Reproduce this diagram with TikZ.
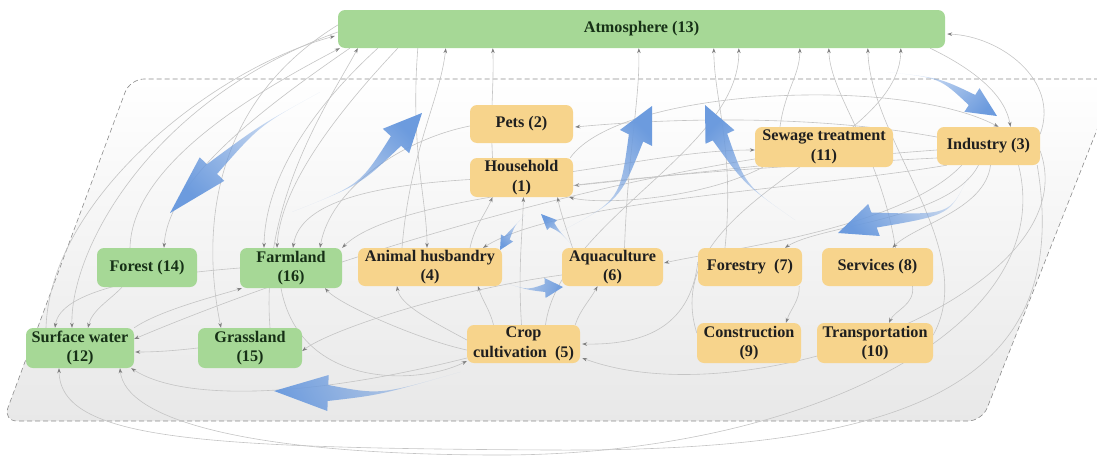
\documentclass[tikz,border=0pt]{standalone}
\usepackage{fontspec}
\setmainfont{Liberation Serif}
\usetikzlibrary{calc,arrows.meta,fadings}
\definecolor{orangebox}{RGB}{247,212,140}
\definecolor{greenbox}{RGB}{166,216,150}
\definecolor{greentext}{RGB}{22,48,22}
\definecolor{flowblue}{RGB}{108,155,222}
\definecolor{linkgray}{RGB}{196,196,196}
\definecolor{tipgray}{RGB}{128,128,128}
\tikzfading[name=fadetail, left color=transparent!0, right color=transparent!80]
\pgfdeclarelayer{region}
\pgfdeclarelayer{links}
\pgfsetlayers{region,links,main}
\tikzset{
  box/.style={rounded corners=7pt, inner sep=0pt, align=center,
              font=\fontsize{16.2}{19.5}\selectfont\bfseries},
  sector/.style={box, fill=orangebox, text=black!88},
  nature/.style={box, fill=greenbox, text=greentext},
  link/.style={draw=linkgray, line width=0.6pt,
               -{Stealth[length=5pt,width=3.6pt,color=tipgray]}},
  flowfill/.style={fill=flowblue, path fading=fadetail},
}
% tapered flow arrow: tail, bend, head base, tip, body half-width, head half-width, fading angle
\newcommand\flowarr[7]{%
  \fill[flowfill, fading angle=#7]
    (#1) .. controls (#2) .. ($(#3)!#5!90:(#4)$) -- ($(#3)!#6!90:(#4)$) -- (#4)
    -- ($(#3)!#6!-90:(#4)$) -- ($(#3)!#5!-90:(#4)$) .. controls (#2) .. (#1) -- cycle;}
\begin{document}
\begin{tikzpicture}[x=1pt,y=-1pt]
\useasboundingbox (0,0) rectangle (1097,458);

% ---------- compartments ----------
\node[nature, minimum width=607pt, minimum height=38pt] (atm) at (641.5,29) {Atmosphere (13)};
\node[sector, minimum width=103pt, minimum height=38pt] (pets) at (521.5,124) {Pets (2)};
\node[sector, minimum width=103pt, minimum height=39pt] (hh) at (521.5,177.5) {Household\\(1)};
\node[sector, minimum width=138pt, minimum height=40pt] (sew) at (824,147) {Sewage treatment\\(11)};
\node[sector, minimum width=103pt, minimum height=38pt] (ind) at (988.5,146) {Industry (3)};
\node[nature, minimum width=100pt, minimum height=39pt] (forest) at (147,267.5) {Forest (14)};
\node[nature, minimum width=102pt, minimum height=40pt] (farm) at (291,268) {Farmland\\(16)};
\node[sector, minimum width=144pt, minimum height=38pt] (anim) at (430,267) {Animal husbandry\\(4)};
\node[sector, minimum width=101pt, minimum height=38pt] (aqua) at (612.5,267) {Aquaculture\\(6)};
\node[sector, minimum width=104pt, minimum height=38pt] (fory) at (750,267) {Forestry~ (7)};
\node[sector, minimum width=111pt, minimum height=38pt] (serv) at (877.5,267) {Services (8)};
\node[nature, minimum width=108pt, minimum height=40pt] (sw) at (80,348) {Surface water\\(12)};
\node[nature, minimum width=104pt, minimum height=40pt] (grass) at (250,348) {Grassland\\(15)};
\node[sector, minimum width=113pt, minimum height=38pt] (crop) at (523.5,344) {Crop\\cultivation~ (5)};
\node[sector, minimum width=104pt, minimum height=40pt] (constr) at (749,343) {Construction\\(9)};
\node[sector, minimum width=116pt, minimum height=40pt] (trans) at (875,343) {Transportation\\(10)};

% ---------- dashed system boundary ----------
\begin{pgfonlayer}{region}
\path[top color=white, bottom color=black!9, draw=black!45, dash pattern=on 5pt off 3pt,
      line width=0.6pt, rounded corners=14pt]
  (600,79) -- (1117,79) -- (982,421) -- (3,421) -- (130,79) -- cycle;
\end{pgfonlayer}

% ---------- flows between compartments ----------
\begin{pgfonlayer}{links}
% into the atmosphere
\draw[link] ($(sw.north)+(-34,0)$) .. controls (50,200) and (210,70) .. ($(atm.west)+(-3,7)$);
\draw[link] ($(forest.north)+(-17,0)$) .. controls (132,160) and (270,85) .. ($(atm.south west)+(2,0)$);
\draw[link] ($(grass.north)+(20,0)$) .. controls (260,200) and (330,100) .. ($(atm.south west)+(20,0)$);
\draw[link] ($(anim.north)+(-28,0)$) .. controls (410,150) and (440,100) .. ($(atm.south west)+(108,0)$);
\draw[link] ($(hh.north)+(-29,0)$) .. controls (490,110) and (494,90) .. ($(atm.south west)+(155,0)$);
\draw[link] ($(aqua.north)+(12,0)$) .. controls (628,150) and (640,100) .. ($(atm.south west)+(301,0)$);
\draw[link] ($(fory.north)+(-25,0)$) .. controls (735,150) and (714,100) .. ($(atm.south west)+(376,0)$);
\draw[link] ($(crop.north)+(22,0)$) .. controls (560,220) and (740,150) .. ($(atm.south west)+(401,0)$);
\draw[link] ($(sew.north)+(-44,0)$) .. controls (785,90) and (800,75) .. ($(atm.south west)+(462,0)$);
\draw[link] ($(serv.north)+(18,0)$) .. controls (880,150) and (830,95) .. ($(atm.south west)+(491,0)$);
\draw[link] ($(trans.east)+(0,-8)$) .. controls (980,250) and (870,140) .. ($(atm.south west)+(530,0)$);
\draw[link] ($(constr.west)+(0,-10)$) .. controls (655,200) and (900,150) .. ($(atm.south west)+(563,0)$);
\draw[link] ($(ind.east)+(0,-12)$) .. controls (1060,80) and (1000,36) .. ($(atm.east)+(2,5)$);
% out of the atmosphere
\draw[link] ($(atm.south west)+(12,0)$) .. controls (260,110) and (168,180) .. ($(forest.north)+(17,0)$);
\draw[link] ($(atm.south west)+(40,0)$) .. controls (310,110) and (265,180) .. ($(farm.north)+(-27,0)$);
\draw[link] ($(atm.south west)+(60,0)$) .. controls (330,120) and (280,190) .. ($(farm.north)+(-14,0)$);
\draw[link] ($(atm.south west)+(80,0)$) .. controls (410,150) and (427,200) .. ($(anim.north)+(-3,0)$);
\draw[link] ($(atm.west)+(0,3)$) .. controls (150,100) and (70,250) .. ($(sw.north)+(-8,0)$);
\draw[link] ($(atm.west)+(0,-4)$) .. controls (200,110) and (205,250) .. ($(grass.north)+(-29,0)$);
\draw[link] ($(atm.south east)+(-15,0)$) .. controls (975,70) and (1005,95) .. ($(ind.north)+(22,0)$);
% from industry
\draw[link] ($(ind.west)+(0,-9)$) .. controls (800,112) and (650,120) .. ($(pets.east)+(2,3)$);
\draw[link] ($(ind.west)+(0,4)$) .. controls (800,160) and (650,178) .. ($(hh.east)+(1,8)$);
\draw[link] ($(ind.south west)+(10,0)$) .. controls (800,190) and (560,200) .. ($(anim.north)+(53,0)$);
\draw[link] ($(ind.south west)+(25,0)$) .. controls (900,230) and (720,250) .. ($(aqua.east)+(1,-4)$);
\draw[link] ($(ind.west)+(0,12)$) .. controls (700,170) and (400,190) .. (farm.north east);
\draw[link] ($(ind.south)+(-10,0)$) .. controls (950,220) and (820,225) .. ($(fory.north)+(35,0)$);
\draw[link] ($(ind.south)+(2,0)$) .. controls (985,210) and (915,225) .. ($(serv.north)+(15,0)$);
\draw[link] ($(ind.south)+(30,0)$) .. controls (1060,330) and (800,455) .. (500,455)
  .. controls (250,455) and (125,420) .. ($(sw.south)+(40,0)$);
\draw[link] ($(ind.east)+(0,5)$) .. controls (1090,290) and (750,420) .. ($(crop.east)+(2,14)$);
\draw[link] ($(ind.south east)+(-3,0)$) .. controls (1075,390) and (900,452) .. (550,450)
  .. controls (200,448) and (60,440) .. ($(sw.south)+(-21,0)$);
% remaining sector links
\draw[link] ($(serv.south)+(35,0)$) .. controls (915,305) and (895,310) .. ($(trans.north)+(14,0)$);
\draw[link] ($(fory.south east)+(-3,0)$) .. controls (800,300) and (790,310) .. ($(constr.north)+(37,0)$);
\draw[link] ($(sew.west)+(0,12)$) .. controls (500,200) and (250,290) .. ($(sw.east)+(0,-9)$);
\draw[link] ($(hh.west)+(0,2)$) .. controls (380,185) and (300,200) .. ($(farm.north)+(2,0)$);
\draw[link] ($(hh.east)+(0,-6)$) .. controls (650,160) and (700,150) .. ($(sew.west)+(0,3)$);
\draw[link] ($(hh.north east)+(-3,0)$) .. controls (620,88) and (900,75) .. ($(ind.north)+(10,0)$);
\draw[link] ($(anim.north)+(40,0)$) .. controls (475,225) and (485,215) .. ($(hh.south)+(-29,0)$);
\draw[link] ($(crop.north)+(-2,0)$) .. controls (518,270) and (522,240) .. ($(hh.south)+(2,0)$);
\draw[link] ($(aqua.north)+(-40,0)$) .. controls (565,225) and (560,210) .. ($(hh.south)+(36,0)$);
\draw[link] ($(sew.south west)+(8,0)$) .. controls (700,200) and (600,205) .. ($(hh.south east)+(-4,0)$);
\draw[link] ($(crop.west)+(0,-4)$) .. controls (430,320) and (400,305) .. ($(anim.south)+(-33,0)$);
\draw[link] ($(crop.north)+(-30,0)$) .. controls (490,310) and (482,300) .. ($(anim.south)+(48,0)$);
\draw[link] ($(crop.west)+(0,6)$) .. controls (420,340) and (340,305) .. ($(farm.south)+(34,0)$);
\draw[link] (sw.north east) .. controls (160,310) and (220,295) .. ($(farm.south west)+(2,0)$);
\draw[link] ($(pets.west)+(0,2)$) .. controls (400,140) and (330,190) .. ($(farm.north)+(29,0)$);
\draw[link] ($(forest.south)+(-25,0)$) .. controls (110,300) and (92,310) .. ($(sw.north)+(8,0)$);
\draw[link] (farm.west) .. controls (150,275) and (60,290) .. ($(sw.north)+(-25,0)$);
\draw[link] ($(aqua.west)+(0,8)$) .. controls (450,290) and (330,330) .. ($(grass.east)+(0,3)$);
\draw[link] (grass.west) .. controls (180,350) and (160,352) .. ($(sw.east)+(1,4)$);
\draw[link] ($(crop.west)+(0,14)$) .. controls (300,400) and (180,400) .. ($(sw.south east)+(-3,0)$);
\draw[link] ($(fory.west)+(0,-5)$) .. controls (690,330) and (640,345) .. ($(crop.east)+(2,0)$);
\draw[link] ($(farm.south)+(-10,0)$) .. controls (300,390) and (420,385) .. ($(crop.west)+(0,17)$);
\draw[link] ($(crop.north east)+(-5,0)$) .. controls (580,310) and (590,300) .. ($(aqua.south)+(-15,0)$);

% main material flows
\flowarr{320,92}{260,125}{212,169}{170,213}{7pt}{17pt}{39}
\flowarr{292,212}{360,185}{396,141}{422,113}{7pt}{18pt}{217}
\flowarr{560,232}{620,200}{636,138}{652,106}{8pt}{18pt}{234}
\flowarr{795,220}{745,185}{720,137}{705,105}{8pt}{16pt}{307}
\flowarr{888,72}{940,78}{972,100}{997,116}{6pt}{14pt}{158}
\flowarr{968,177}{950,215}{874,220}{838,233}{8pt}{17pt}{22}
\flowarr{460,372}{380,395}{328,393}{274,391}{8pt}{18pt}{6}
\flowarr{525,215}{515,225}{507,238}{500,250}{3pt}{7pt}{60}
\flowarr{572,245}{560,232}{552,225}{541,214}{3pt}{7pt}{310}
\flowarr{505,283}{528,290}{545,288}{563,287}{4pt}{10pt}{175}
\end{pgfonlayer}
\end{tikzpicture}
\end{document}
